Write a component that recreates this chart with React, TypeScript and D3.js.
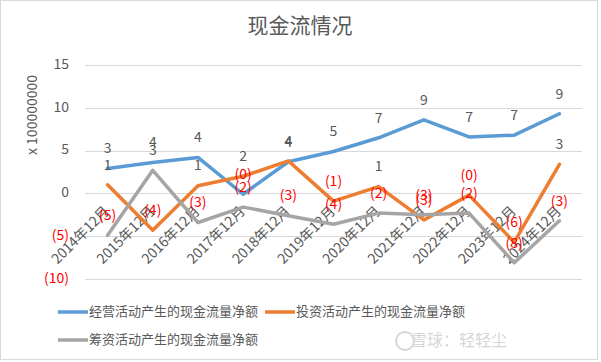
import * as d3 from 'd3';
import React, { useEffect, useRef } from 'react';

const years = ['2014年12月', '2015年12月', '2016年12月', '2017年12月', '2018年12月', '2019年12月',
  '2020年12月', '2021年12月', '2022年12月', '2023年12月', '2024年12月'];
const operating = [2.9, 3.6, 4.2, -0.1, 3.7, 4.9, 6.5, 8.6, 6.6, 6.8, 9.3];
const investing = [1.0, -4.3, 0.9, 2.0, 3.8, -0.9, 0.8, -3.1, -0.2, -5.7, 3.4];
const financing = [-4.9, 2.7, -3.4, -1.6, -2.6, -3.6, -2.3, -2.5, -2.3, -8.1, -3.2];
const seriesNames = ['经营活动产生的现金流量净额', '投资活动产生的现金流量净额', '筹资活动产生的现金流量净额'];
const colors = ['#5B9BD5', '#ED7D31', '#A5A5A5'];
const yTicks = [15, 10, 5, 0, -5, -10];

const font = '"Noto Sans CJK SC", "Noto Sans", sans-serif';

function fmt(v: number) {
  const r = Math.round(Math.abs(v));
  return v < 0 ? `(${r})` : `${r}`;
}

function App() {
  const ref = useRef<SVGSVGElement>(null);

  useEffect(() => {
    const svg = d3.select(ref.current);
    svg.selectAll('*').remove();

    svg.append('rect')
      .attr('x', 0.5).attr('y', 0.5)
      .attr('width', 597).attr('height', 359)
      .attr('fill', '#fff').attr('stroke', '#d9d9d9');

    const x = d3.scaleBand().domain(years).range([85, 582]).paddingInner(0).paddingOuter(0);
    const cx = (d: string) => (x(d) as number) + x.bandwidth() / 2;
    const y = d3.scaleLinear().domain([-10, 15]).range([279, 65]);

    // title
    svg.append('text')
      .attr('x', 300).attr('y', 27)
      .attr('text-anchor', 'middle').attr('dominant-baseline', 'middle')
      .attr('font-family', font).attr('font-size', 21).attr('fill', '#595959')
      .text('现金流情况');

    // gridlines + y labels
    const g = svg.append('g');
    g.selectAll('line.grid').data(yTicks).enter().append('line')
      .attr('x1', 85).attr('x2', 582)
      .attr('y1', d => Math.round(y(d)) + 0.5).attr('y2', d => Math.round(y(d)) + 0.5)
      .attr('stroke', '#d9d9d9').attr('stroke-width', 1);
    g.selectAll('text.ytick').data(yTicks).enter().append('text')
      .attr('x', 69).attr('y', d => y(d))
      .attr('text-anchor', 'end').attr('dominant-baseline', 'middle')
      .attr('font-family', font).attr('font-size', 14)
      .attr('fill', d => (d < 0 ? '#FF0000' : '#595959'))
      .text(d => fmt(d));

    svg.append('text')
      .attr('transform', 'translate(33,115) rotate(-90)')
      .attr('text-anchor', 'middle').attr('dominant-baseline', 'middle')
      .attr('font-family', font).attr('font-size', 14).attr('fill', '#595959')
      .text('x 100000000');

    // category labels along the zero line
    svg.selectAll('text.xtick').data(years).enter().append('text')
      .attr('transform', d => `translate(${cx(d)},${y(0) + 16}) rotate(-45)`)
      .attr('text-anchor', 'end').attr('dominant-baseline', 'middle')
      .attr('font-family', font).attr('font-size', 14).attr('fill', '#595959')
      .text(d => d);

    const all = [operating, investing, financing];
    const line = d3.line<number>()
      .x((_, i) => cx(years[i]))
      .y(d => y(d));

    all.forEach((vals, k) => {
      svg.append('path')
        .datum(vals)
        .attr('d', line)
        .attr('fill', 'none')
        .attr('stroke', colors[k])
        .attr('stroke-width', 3.5)
        .attr('stroke-linejoin', 'round')
        .attr('stroke-linecap', 'round');
    });

    all.forEach(vals => {
      svg.append('g').selectAll('text').data(vals).enter().append('text')
        .attr('x', (_, i) => cx(years[i]))
        .attr('y', d => y(d) - 19)
        .attr('text-anchor', 'middle').attr('dominant-baseline', 'middle')
        .attr('font-family', font).attr('font-size', 14)
        .attr('fill', d => (d < 0 ? '#FF0000' : '#595959'))
        .text(d => fmt(d));
    });

    // legend
    const legendPos = [[58, 312], [265, 312], [58, 340]];
    seriesNames.forEach((name, k) => {
      const [lx, ly] = legendPos[k];
      svg.append('line')
        .attr('x1', lx).attr('x2', lx + 30)
        .attr('y1', ly).attr('y2', ly)
        .attr('stroke', colors[k]).attr('stroke-width', 3.5);
      svg.append('text')
        .attr('x', lx + 31).attr('y', ly)
        .attr('dominant-baseline', 'middle')
        .attr('font-family', font).attr('font-size', 13).attr('fill', '#595959')
        .text(name);
    });

    // watermark
    svg.append('text')
      .attr('x', 507).attr('y', 342)
      .attr('text-anchor', 'end').attr('dominant-baseline', 'middle')
      .attr('font-family', font).attr('font-size', 16).attr('fill', '#d6d6d6')
      .text('雪球：轻轻尘');
    svg.append('circle')
      .attr('cx', 405).attr('cy', 341).attr('r', 9)
      .attr('fill', 'none').attr('stroke', '#d6d6d6').attr('stroke-width', 2);
  }, []);

  return (
    <div style={{ position: 'absolute', left: 0, top: 0, background: '#fff' }}>
      <svg ref={ref} width={601} height={362} />
    </div>
  );
}

export default App;
